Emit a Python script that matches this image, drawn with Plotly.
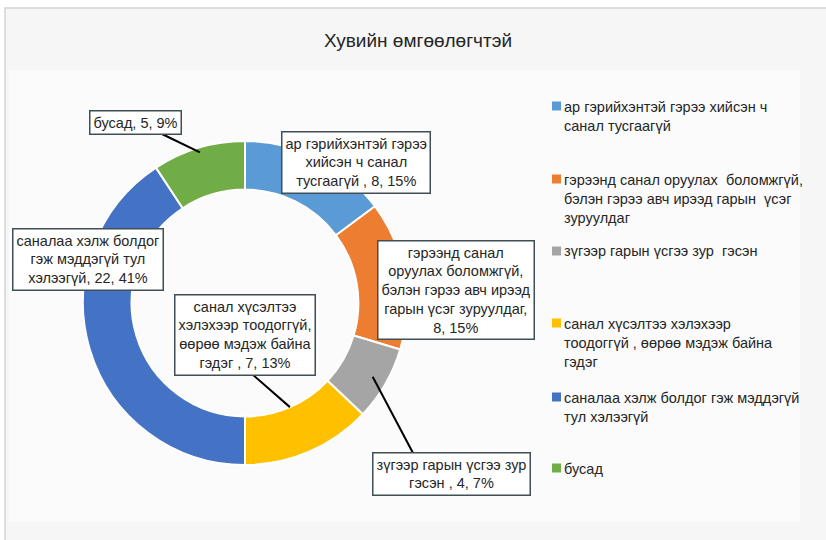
import math
import plotly.graph_objects as go

# ---- data ----
categories = [
    "ар гэрийхэнтэй гэрээ хийсэн ч санал тусгаагүй",
    "гэрээнд санал оруулах  боломжгүй, бэлэн гэрээ авч ирээд гарын үсэг зуруулдаг",
    "зүгээр гарын үсгээ зур гэсэн",
    "санал хүсэлтээ хэлэхээр тоодоггүй, өөрөө мэдэж байна гэдэг",
    "саналаа хэлж болдог гэж мэддэгүй тул хэлээгүй",
    "бусад",
]
values = [8, 8, 4, 7, 22, 5]
percent_labels = ["15%", "15%", "7%", "13%", "41%", "9%"]
label_text = [
    "ар гэрийхэнтэй гэрээ<br>хийсэн ч санал<br>тусгаагүй , 8, 15%",
    "гэрээнд санал<br>оруулах боломжгүй,<br>бэлэн гэрээ авч ирээд<br>гарын үсэг зуруулдаг,<br>8, 15%",
    "зүгээр гарын үсгээ зур<br>гэсэн , 4, 7%",
    "санал хүсэлтээ<br>хэлэхээр тоодоггүй,<br>өөрөө мэдэж байна<br>гэдэг , 7, 13%",
    "саналаа хэлж болдог<br>гэж мэддэгүй тул<br>хэлээгүй, 22, 41%",
    "бусад, 5, 9%",
]
legend_text = [
    "ар гэрийхэнтэй гэрээ хийсэн ч<br>санал тусгаагүй",
    "гэрээнд санал оруулах  боломжгүй,<br>бэлэн гэрээ авч ирээд гарын  үсэг<br>зуруулдаг",
    "зүгээр гарын үсгээ зур  гэсэн",
    "санал хүсэлтээ хэлэхээр<br>тоодоггүй , өөрөө мэдэж байна<br>гэдэг",
    "саналаа хэлж болдог гэж мэддэгүй<br>тул хэлээгүй",
    "бусад",
]
colors = ["#5B9BD5", "#ED7D31", "#A5A5A5", "#FFC000", "#4472C4", "#70AD47"]
title = "Хувийн өмгөөлөгчтэй"

# ---- layout geometry (pixels) ----
W, H = 826, 540
cx, cy, R = 245, 303, 162
hole = 0.70

def px(x):
    return x / W

def py(y):
    return 1 - y / H

# label box centres (pixel) and leader line start points
label_pos = [(356, 162), (456, 290), (451, 474), (245, 335), (88, 259), (135, 123)]
leader_from = [None, None, (413, 453), (252, 374), None, (162, 134)]
leader_r = [None, None, 0.91, 0.70, None, 0.97]

legend_first_line = [106, 179, 251, 323, 397, 468]

fig = go.Figure()
fig.add_trace(go.Pie(
    labels=categories,
    values=values,
    sort=False,
    direction="clockwise",
    rotation=0,
    hole=hole,
    marker=dict(colors=colors, line=dict(color="white", width=2)),
    textinfo="none",
    showlegend=False,
    domain=dict(x=[px(cx - R), px(cx + R)], y=[py(cy + R), py(cy - R)]),
))

shapes = []
# chart frame
shapes.append(dict(type="rect", xref="paper", yref="paper", x0=px(5), x1=px(830), y0=py(8), y1=py(545),
                   fillcolor="#F6F6F6", line=dict(color="#D4D4D4", width=1.5), layer="below"))
shapes.append(dict(type="rect", xref="paper", yref="paper", x0=px(9), x1=px(800), y0=py(70), y1=py(522),
                   fillcolor="#FBFBFB", line=dict(width=0), layer="below"))

# leader lines: slice end computed from data angles
total = sum(values)
cum = 0
mids = []
for v in values:
    mids.append((cum + v / 2) / total * 2 * math.pi)
    cum += v
for i, start in enumerate(leader_from):
    if start is None:
        continue
    r = R * leader_r[i]
    ex = cx + r * math.sin(mids[i])
    ey = cy - r * math.cos(mids[i])
    shapes.append(dict(type="line", xref="paper", yref="paper",
                       x0=px(start[0]), y0=py(start[1]), x1=px(ex), y1=py(ey),
                       line=dict(color="#000000", width=2)))

# legend keys
for i, yc in enumerate(legend_first_line):
    shapes.append(dict(type="rect", xref="paper", yref="paper",
                       x0=px(552), x1=px(561), y0=py(yc - 4.5), y1=py(yc + 4.5),
                       fillcolor=colors[i], line=dict(width=0)))

annotations = []
font_main = dict(family="Liberation Sans, Arial, sans-serif", size=14.5, color="#262626")
for i, (x, y) in enumerate(label_pos):
    annotations.append(dict(
        xref="paper", yref="paper", x=px(x), y=py(y), xanchor="center", yanchor="middle",
        text=label_text[i], showarrow=False, align="center", font=font_main,
        bgcolor="#FFFFFF", bordercolor="#3F4F55", borderwidth=1.5, borderpad=3,
    ))
for i, yc in enumerate(legend_first_line):
    annotations.append(dict(
        xref="paper", yref="paper", x=px(562), y=py(yc - 9.5), xanchor="left", yanchor="top",
        text=legend_text[i], showarrow=False, align="left", font=font_main,
    ))

fig.update_layout(
    width=W, height=H,
    margin=dict(l=0, r=0, t=0, b=0),
    paper_bgcolor="#FFFFFF",
    plot_bgcolor="#FFFFFF",
    title=dict(text=title, x=px(418), xanchor="center", y=py(40), yanchor="middle",
               font=dict(family="Liberation Sans, Arial, sans-serif", size=19, color="#262626")),
    shapes=shapes,
    annotations=annotations,
)

fig.write_html("out.html", config={"displayModeBar": False},
               post_script="document.body.style.margin='0px';document.body.style.overflow='hidden';")
